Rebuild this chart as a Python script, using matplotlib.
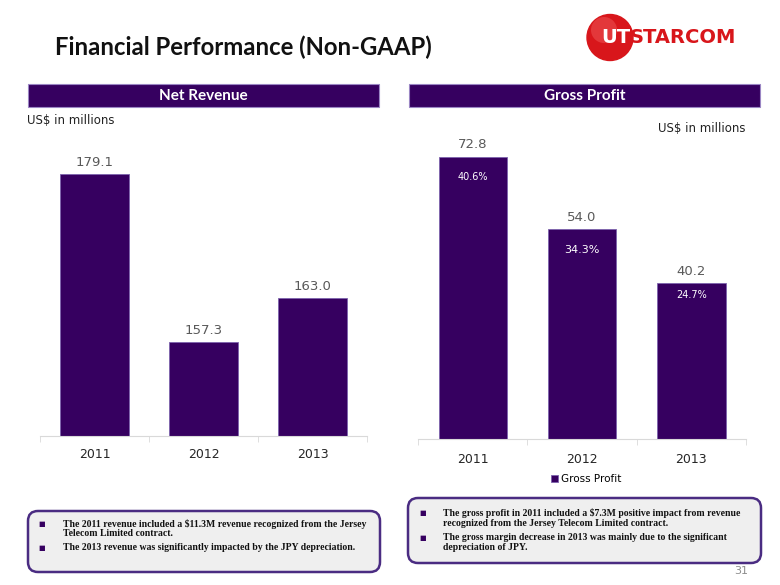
import matplotlib.pyplot as plt
from matplotlib.patches import Rectangle, FancyBboxPatch, Circle

# data
years = ["2011", "2012", "2013"]
net_revenue = [179.1, 157.3, 163.0]
gross_profit = [72.8, 54.0, 40.2]
gross_margin = ["40.6%", "34.3%", "24.7%"]

rev_notes = [
    ("The 2011 revenue included a $11.3M revenue recognized from the Jersey",
     "Telecom Limited contract."),
    ("The 2013 revenue was significantly impacted by the JPY depreciation.",),
]
gp_notes = [
    ("The gross profit in 2011 included a $7.3M positive impact from revenue",
     "recognized from the Jersey Telecom Limited contract."),
    ("The gross margin decrease in 2013 was mainly due to the significant",
     "depreciation of JPY."),
]

PURPLE = "#360060"
W, H = 780, 585

fig = plt.figure(figsize=(W / 100, H / 100), dpi=100)
fig.patch.set_facecolor("white")

# page layer in pixel coordinates
page = fig.add_axes([0, 0, 1, 1])
page.set_xlim(0, W)
page.set_ylim(H, 0)
page.axis("off")

page.text(55, 47, "Financial Performance (Non-GAAP)", fontsize=17.2, fontweight="bold",
          family="Lato", color="#111111", va="center", ha="left")

# logo
page.add_patch(Circle((610, 37.5), 23, color="#D8161B"))
page.add_patch(Circle((604, 30), 13, color="#F26060", alpha=0.45, lw=0))
page.text(630, 37.5, "UT", fontsize=14, fontweight="bold", color="white", ha="right", va="center")
page.text(630, 37.5, "STARCOM", fontsize=14, fontweight="bold", color="#D8161B", ha="left", va="center")

# section headers
for x0, title in [(28, "Net Revenue"), (409, "Gross Profit")]:
    page.add_patch(Rectangle((x0, 84), 351, 23, facecolor=PURPLE, edgecolor="#9b86c4", lw=0.8))
    page.text(x0 + 175.5, 96, title, fontsize=11, fontweight="bold", family="Lato",
              color="white", ha="center", va="center")

page.text(27, 121, "US$ in millions", fontsize=8.5, color="#222222", va="center", ha="left")
page.text(745, 128, "US$ in millions", fontsize=8.5, color="#222222", va="center", ha="right")


def note_box(x0, y0, w, h, notes, line_ys, bullet_x, text_x):
    page.add_patch(FancyBboxPatch((x0, y0), w, h, boxstyle="round,pad=0,rounding_size=10",
                                  facecolor="#EFEFEF", edgecolor="#4A2C82", lw=1.8))
    k = 0
    for note in notes:
        page.text(bullet_x, line_ys[k], "\u25A0", fontsize=5, color=PURPLE, ha="center", va="center")
        for line in note:
            page.text(text_x, line_ys[k], line, fontsize=7, fontweight="bold",
                      family="Liberation Serif", color="#111111", ha="left", va="center")
            k += 1


note_box(28, 511, 352, 61, rev_notes, [524, 534, 548], 42, 63)
note_box(408, 498, 353, 65, gp_notes, [513, 523, 538, 548], 423, 443)

page.text(748, 571, "31", fontsize=8, color="#8c8c8c", ha="right", va="center")


def bar_axes(rect, values, ylim, pad):
    ax = fig.add_axes(rect)
    x = range(len(values))
    bars = ax.bar(x, values, width=0.625, color=PURPLE, edgecolor="#7d63ad", lw=0.6,
                  label="Gross Profit")
    ax.set_xlim(-0.5, len(values) - 0.5)
    ax.set_ylim(*ylim)
    for s in ["top", "left", "right"]:
        ax.spines[s].set_visible(False)
    ax.spines["bottom"].set_color("#d9d9d9")
    ax.set_yticks([])
    ax.set_xticks(list(x))
    ax.set_xticklabels(years, fontsize=9, color="#262626")
    ax.tick_params(axis="x", which="major", length=0, pad=pad)
    ax.set_xticks([i - 0.5 for i in range(len(values) + 1)], minor=True)
    ax.tick_params(axis="x", which="minor", length=4, color="#d9d9d9", direction="out")
    ax.patch.set_alpha(0)
    for b, v in zip(bars, values):
        ax.annotate(f"{v:.1f}", (b.get_x() + b.get_width() / 2, v), xytext=(0, 8.5),
                    textcoords="offset points", ha="center", va="center",
                    fontsize=9.5, color="#595959")
    return ax, bars


ax1, _ = bar_axes([40 / W, 149 / H, 327 / W, 296 / H], net_revenue,
                  (145.1, 145.1 + 296 / 7.706), 9)
ax2, bars2 = bar_axes([418 / W, 146 / H, 328 / W, 299 / H], gross_profit,
                      (0, 299 / 3.88), 10)

pct_off = [-14.5, -14.5, -8.5]
pct_size = [7, 8, 7]
for b, v, t, off, fs in zip(bars2, gross_profit, gross_margin, pct_off, pct_size):
    ax2.annotate(t, (b.get_x() + b.get_width() / 2, v), xytext=(0, off),
                 textcoords="offset points", ha="center", va="center",
                 fontsize=fs, color="white")

fig.legend(handles=[bars2], labels=["Gross Profit"], loc="center",
           bbox_to_anchor=(586 / W, 1 - 479 / H), frameon=False, fontsize=7.5,
           handlelength=0.7, handleheight=0.7, handletextpad=0.3, borderpad=0)

fig.savefig("out.png", dpi=100)
